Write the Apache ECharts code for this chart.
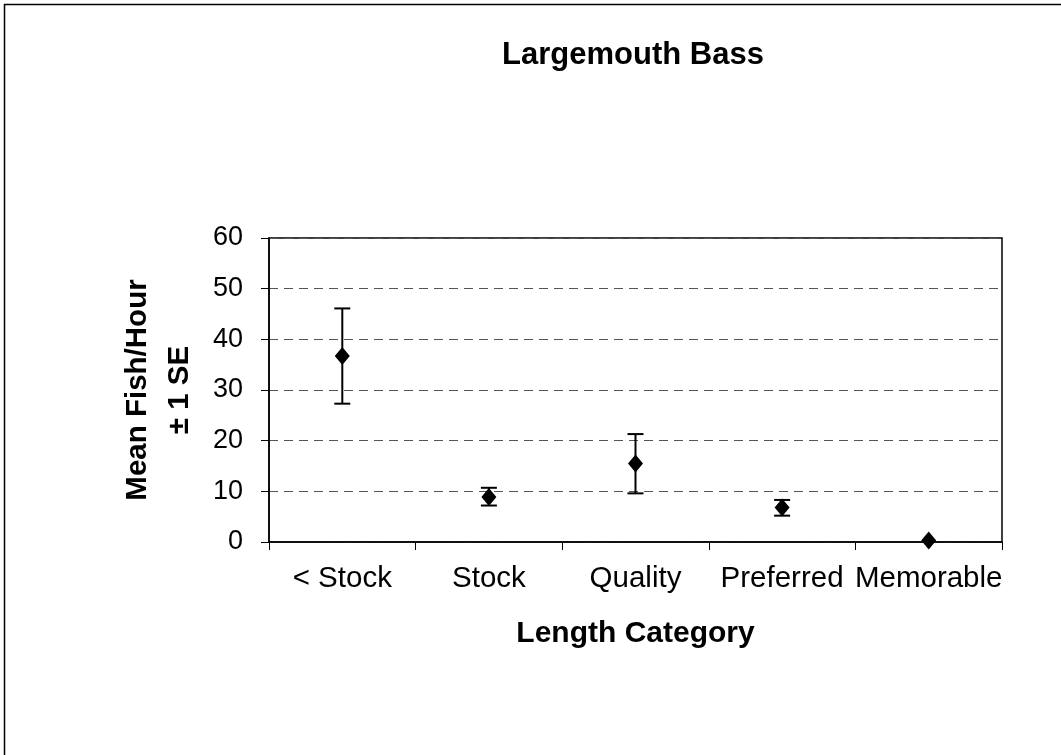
<!DOCTYPE html>
<html>
<head>
<meta charset="utf-8">
<script src="https://cdn.jsdelivr.net/npm/echarts@6/dist/echarts.min.js"></script>
<style>
  html, body { margin: 0; padding: 0; background: #fff; }
  #chart { width: 1061px; height: 755px; }
</style>
</head>
<body>
<div id="chart"></div>
<script>
// Length categories and mean catch rate (fish/hour) with ±1 SE bounds
const categories = ['< Stock', 'Stock', 'Quality', 'Preferred', 'Memorable'];
const means = [36.7, 8.9, 15.5, 6.8, 0.3];
const lowerBounds = [27.3, 7.2, 9.6, 5.2, 0.3];
const upperBounds = [46.1, 10.7, 21.3, 8.3, 0.3];
const yTicks = { min: 0, max: 60, interval: 10 };

const font = 'Liberation Sans, Arial, sans-serif';
const chart = echarts.init(document.getElementById('chart'));

const errorData = categories.map((c, i) => [i, lowerBounds[i], upperBounds[i]]);

chart.setOption({
  backgroundColor: '#fff',
  animation: false,
  title: {
    text: 'Largemouth Bass',
    left: 628,
    top: 35,
    textAlign: 'center',
    textStyle: { fontFamily: font, fontSize: 31, fontWeight: 'bold', color: '#000' }
  },
  graphic: [{
    type: 'rect',
    shape: { x: 4.5, y: 4.5, width: 1200, height: 900 },
    style: { fill: 'none', stroke: '#000', lineWidth: 1.5 },
    silent: true
  }],
  grid: {
    left: 269, right: 59, top: 238, bottom: 213,
    show: true, borderColor: '#000', borderWidth: 1.5, backgroundColor: 'transparent'
  },
  xAxis: {
    type: 'category',
    data: categories,
    boundaryGap: true,
    name: 'Length Category',
    nameLocation: 'middle',
    nameGap: 77,
    nameTextStyle: { fontFamily: font, fontSize: 30, fontWeight: 'bold', color: '#000' },
    axisLine: { lineStyle: { color: '#000', width: 1.5 } },
    axisTick: { show: true, interval: 0, length: 8, lineStyle: { color: '#000', width: 1 } },
    axisLabel: { interval: 0, margin: 22, fontFamily: font, fontSize: 29.5, color: '#000' },
    splitLine: { show: false }
  },
  yAxis: {
    type: 'value',
    min: yTicks.min,
    max: yTicks.max,
    interval: yTicks.interval,
    name: 'Mean Fish/Hour\n± 1 SE',
    nameLocation: 'middle',
    nameRotate: 90,
    nameGap: 68,
    nameTextStyle: { fontFamily: font, fontSize: 29.5, fontWeight: 'bold', color: '#000', lineHeight: 42 },
    axisLine: { show: true, lineStyle: { color: '#000', width: 1.5 } },
    axisTick: { show: true, length: 8, lineStyle: { color: '#000', width: 1 } },
    axisLabel: { margin: 26, fontFamily: font, fontSize: 27, color: '#000' },
    splitLine: { show: true, lineStyle: { color: '#555', type: [9, 6], width: 1 } }
  },
  series: [
    {
      type: 'custom',
      name: 'SE',
      data: errorData,
      z: 3,
      renderItem: function (params, api) {
        const x = api.value(0);
        const lo = api.coord([x, api.value(1)]);
        const hi = api.coord([x, api.value(2)]);
        if (Math.abs(lo[1] - hi[1]) < 1) return { type: 'group', children: [] };
        const half = 8;
        const st = { stroke: '#000', lineWidth: 2 };
        return {
          type: 'group',
          children: [
            { type: 'line', shape: { x1: hi[0], y1: hi[1], x2: lo[0], y2: lo[1] }, style: st },
            { type: 'line', shape: { x1: hi[0] - half, y1: hi[1], x2: hi[0] + half, y2: hi[1] }, style: st },
            { type: 'line', shape: { x1: lo[0] - half, y1: lo[1], x2: lo[0] + half, y2: lo[1] }, style: st }
          ]
        };
      }
    },
    {
      type: 'scatter',
      name: 'Mean',
      data: means,
      symbol: 'diamond',
      symbolSize: [15, 18],
      itemStyle: { color: '#000', opacity: 1 },
      z: 4
    }
  ]
});
</script>
</body>
</html>
